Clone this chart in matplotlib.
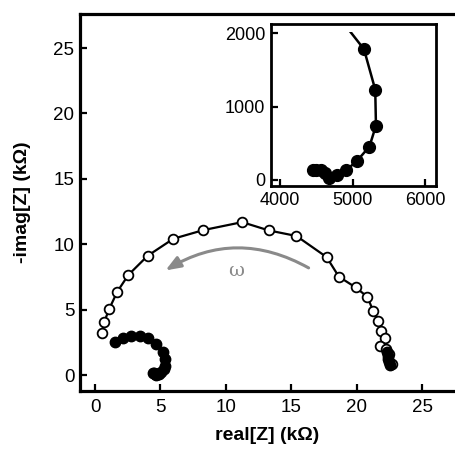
import numpy as np
import matplotlib
matplotlib.use('Agg')
import matplotlib.pyplot as plt
from matplotlib.patches import FancyArrowPatch, Rectangle

plt.rcParams['font.family'] = ['Liberation Sans', 'DejaVu Sans']

# open circles (kOhm)
open_x = [0.51, 0.71, 1.09, 1.70, 2.54, 4.02, 5.98, 8.27, 11.24, 13.26, 15.39, 17.69,
          18.63, 19.90, 20.80, 21.25, 21.63, 21.88, 22.16, 21.78, 22.25, 22.45, 22.65]
open_y = [3.20, 4.10, 5.09, 6.39, 7.66, 9.13, 10.43, 11.09, 11.70, 11.07, 10.64, 9.03,
          7.53, 6.72, 6.00, 4.91, 4.15, 3.38, 2.87, 2.27, 1.98, 1.60, 0.84]

# filled circles, low-impedance arc (kOhm)
filled_x = [1.55, 2.10, 2.75, 3.40, 4.05, 4.65, 5.155, 5.31, 5.32, 5.23, 5.055, 4.91,
            4.79, 4.675, 4.62, 4.56, 4.50, 4.45]
filled_y = [2.55, 2.82, 3.00, 3.00, 2.82, 2.42, 1.78, 1.23, 0.74, 0.455, 0.255, 0.135,
            0.065, 0.03, 0.09, 0.13, 0.14, 0.14]

# filled circles, high-impedance end (kOhm)
filled2_x = [22.30, 22.35, 22.40, 22.45, 22.50]
filled2_y = [1.80, 1.50, 1.25, 1.00, 0.80]

xticks = [0, 5, 10, 15, 20, 25]
yticks = [0, 5, 10, 15, 20, 25]
inset_xticks = [4000, 5000, 6000]
inset_yticks = [0, 1000, 2000]

fig = plt.figure(figsize=(4.55, 4.54), dpi=100)
ax = fig.add_axes([80/455, 1 - 391/454, 1 - 80/455, 377/454])

ax.plot(open_x, open_y, '-o', color='black', lw=1.6, ms=7, mfc='white', mec='black', mew=1.3, zorder=3)
ax.plot(filled_x, filled_y, '-o', color='black', lw=1.6, ms=7.5, mfc='black', mec='black', zorder=4)
ax.plot(filled2_x, filled2_y, '-o', color='black', lw=1.6, ms=7.5, mfc='black', mec='black', zorder=4)

# frequency arrow
arrow = FancyArrowPatch((16.5, 8.1), (5.2, 7.9), connectionstyle='arc3,rad=0.3',
                        arrowstyle='-|>,head_length=9,head_width=3.5', color='#8a8a8a',
                        lw=2.2, mutation_scale=1)
ax.add_patch(arrow)
ax.text(10.8, 8.0, 'ω', color='#8a8a8a', fontsize=14, family='DejaVu Serif',
        ha='center', va='center')

ax.set_xlim(-1.15, 27.5)
ax.set_ylim(-1.2, 27.6)
ax.set_xticks(xticks)
ax.set_yticks(yticks)
ax.tick_params(direction='in', length=5, width=1.6, labelsize=13.5, pad=6)
ax.tick_params(axis='y', pad=4)
ax.spines['right'].set_visible(False)
for s in ['left', 'top', 'bottom']:
    ax.spines[s].set_linewidth(2.3)
ax.set_xlabel('real[Z] (kΩ)', fontsize=14, fontweight='bold', labelpad=8)
ax.set_ylabel('-imag[Z] (kΩ)', fontsize=14, fontweight='bold', labelpad=16)

# inset, same data in Ohm
axi = fig.add_axes([271/455, 1 - 186/454, 165/455, 162/454])
line, = axi.plot(np.array(filled_x) * 1000, np.array(filled_y) * 1000, '-o', color='black',
                 lw=1.8, ms=8.5, mfc='black', mec='black')
clip = Rectangle((3876, -82), 2270, 2100, transform=axi.transData, visible=False)
axi.add_patch(clip)
line.set_clip_path(clip)
axi.set_xlim(3876, 6146)
axi.set_ylim(-82, 2123)
axi.set_xticks(inset_xticks)
axi.set_yticks(inset_yticks)
axi.tick_params(direction='in', length=5, width=1.6, labelsize=13, pad=4)
for s in axi.spines.values():
    s.set_linewidth(2)

fig.savefig('out.png', dpi=100)
